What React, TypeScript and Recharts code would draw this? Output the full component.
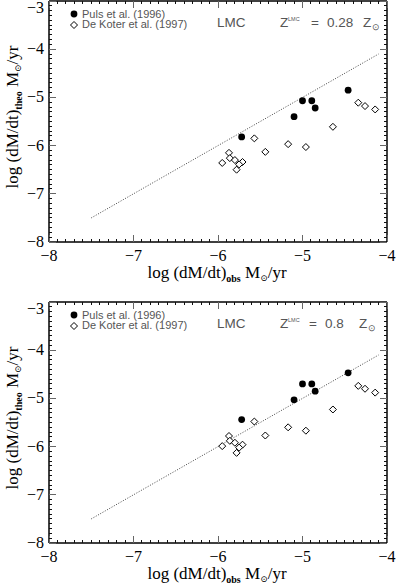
import React from 'react';
import { ScatterChart, Scatter, XAxis, YAxis, ReferenceLine, ReferenceArea } from 'recharts';

// Puls et al. (1996): observed vs theoretical log mass-loss rates
const pulsObs = [-4.46, -5.0, -4.89, -4.85, -5.1, -5.72];
const pulsTheoZ028 = [-4.85, -5.07, -5.07, -5.22, -5.4, -5.82];
const pulsTheoZ08 = [-4.47, -4.7, -4.7, -4.85, -5.03, -5.44];

// De Koter et al. (1997)
const koterObs = [-4.34, -4.26, -4.14, -4.64, -5.57, -5.17, -4.96, -5.44, -5.87, -5.86, -5.8, -5.71, -5.95, -5.75, -5.78];
const koterTheoZ028 = [-5.11, -5.18, -5.25, -5.61, -5.85, -5.97, -6.03, -6.13, -6.15, -6.26, -6.3, -6.34, -6.36, -6.39, -6.5];
const koterTheoZ08 = [-4.74, -4.8, -4.88, -5.23, -5.48, -5.6, -5.67, -5.77, -5.78, -5.88, -5.92, -5.96, -5.99, -6.02, -6.13];

// one-to-one reference line
const oneToOne = [-7.5, -4.1];

const xMajor = [-8, -7, -6, -5, -4];
const yMajor = [-8, -7, -6, -5, -4, -3];
const minorStep = 0.1;

const makeTicks = (major: number[]) => {
  const out: number[] = [];
  const lo = major[0];
  const hi = major[major.length - 1];
  const n = Math.round((hi - lo) / minorStep);
  for (let i = 0; i <= n; i++) out.push(Math.round((lo + i * minorStep) * 10) / 10);
  return out;
};
const xTicks = makeTicks(xMajor);
const yTicks = makeTicks(yMajor);

const isMajor = (v: number) => Math.abs(v - Math.round(v)) < 1e-6;
const fmt = (v: number) => (v < 0 ? '\u2212' + Math.abs(v) : String(v));

const TICK_MINOR = '#111';
const TICK_MAJOR = '#666';
const MAJ = 7;
const MIN = 3;
const SERIF = '"Liberation Serif", "DejaVu Serif", serif';
const SANS = '"Liberation Sans", Arial, sans-serif';

const tickPath = (d: string, m: boolean) => (
  <path d={d} stroke={m ? TICK_MAJOR : TICK_MINOR} strokeWidth={1} fill="none" shapeRendering="crispEdges" />
);

const BottomTick = (p: any) => {
  const v = p.payload.value;
  const m = isMajor(v);
  return (
    <g>
      {tickPath(`M${p.x},${p.y}V${p.y - (m ? MAJ : MIN)}`, m)}
      {m && (
        <text x={p.x} y={p.y + 19} textAnchor="middle" fontFamily={SERIF} fontSize={16} fill="#000">
          {fmt(v)}
        </text>
      )}
    </g>
  );
};
const TopTick = (p: any) => {
  const m = isMajor(p.payload.value);
  return tickPath(`M${p.x},${p.y}V${p.y + (m ? MAJ : MIN)}`, m);
};
const LeftTick = (p: any) => {
  const v = p.payload.value;
  const m = isMajor(v);
  return (
    <g>
      {tickPath(`M${p.x},${p.y}H${p.x + (m ? MAJ : MIN)}`, m)}
      {m && (
        <text x={p.x - 5} y={Math.max(p.y + 5, 13)} textAnchor="end" fontFamily={SERIF} fontSize={16} fill="#000">
          {fmt(v)}
        </text>
      )}
    </g>
  );
};
const RightTick = (p: any) => {
  const m = isMajor(p.payload.value);
  return tickPath(`M${p.x},${p.y}H${p.x - (m ? MAJ : MIN)}`, m);
};

const Dot = (p: any) => <circle cx={p.cx} cy={p.cy} r={3.4} fill="#000" />;
const Diamond = (p: any) => {
  const s = 3.5;
  return (
    <path
      d={`M${p.cx},${p.cy - s}L${p.cx + s},${p.cy}L${p.cx},${p.cy + s}L${p.cx - s},${p.cy}Z`}
      fill="#fff"
      stroke="#000"
      strokeWidth={1}
    />
  );
};
const Nothing = () => <g />;

const W = 397;
const H = 301;

function Panel({ pulsTheo, koterTheo, zText, zPos }: { pulsTheo: number[]; koterTheo: number[]; zText: string; zPos: number[] }) {
  const puls = pulsObs.map((x, i) => ({ x, y: pulsTheo[i] }));
  const koter = koterObs.map((x, i) => ({ x, y: koterTheo[i] }));
  return (
    <ScatterChart width={W} height={H} margin={{ top: 0, right: 9, bottom: 0, left: 0 }}>
      <XAxis type="number" xAxisId="b" dataKey="x" domain={[-8, -4]} ticks={xTicks} interval={0} allowDataOverflow orientation="bottom" height={59} tickSize={0} tickMargin={0} tickLine={false} axisLine={{ stroke: '#000' }} tick={<BottomTick />} />
      <XAxis type="number" xAxisId="t" dataKey="x" domain={[-8, -4]} ticks={xTicks} interval={0} allowDataOverflow orientation="top" height={1} tickSize={0} tickMargin={0} tickLine={false} axisLine={{ stroke: '#000' }} tick={<TopTick />} />
      <YAxis type="number" yAxisId="l" dataKey="y" domain={[-8, -3]} ticks={yTicks} interval={0} allowDataOverflow orientation="left" width={49} tickSize={0} tickMargin={0} tickLine={false} axisLine={{ stroke: '#000' }} tick={<LeftTick />} />
      <YAxis type="number" yAxisId="r" dataKey="y" domain={[-8, -3]} ticks={yTicks} interval={0} allowDataOverflow orientation="right" width={1} tickSize={0} tickMargin={0} tickLine={false} axisLine={{ stroke: '#000' }} tick={<RightTick />} />
      <ReferenceArea xAxisId="b" yAxisId="l" x1={-8} x2={-4} y1={-8} y2={-3} fill="none" stroke="#000" strokeWidth={1} ifOverflow="visible" />
      <ReferenceLine
        xAxisId="b"
        yAxisId="l"
        segment={[
          { x: oneToOne[0], y: oneToOne[0] },
          { x: oneToOne[1], y: oneToOne[1] },
        ]}
        stroke="#444"
        strokeWidth={1}
        strokeDasharray="1 1.6"
        ifOverflow="visible"
      />
      <Scatter xAxisId="t" yAxisId="r" data={puls} shape={<Nothing />} isAnimationActive={false} />
      <Scatter xAxisId="b" yAxisId="l" data={koter} shape={<Diamond />} isAnimationActive={false} />
      <Scatter xAxisId="b" yAxisId="l" data={puls} shape={<Dot />} isAnimationActive={false} />

      {/* legend */}
      <g>
        <circle cx={74} cy={14} r={3.4} fill="#000" />
        <path d="M74,21.5L77.5,25L74,28.5L70.5,25Z" fill="#fff" stroke="#000" strokeWidth={1} />
        <text x={82} y={17.5} fontFamily={SANS} fontSize={11} fill="#555">Puls et al. (1996)</text>
        <text x={82} y={28} fontFamily={SANS} fontSize={11} fill="#555">De Koter et al. (1997)</text>
      </g>
      <g fontFamily={SANS} fill="#555">
        <text x={217} y={26.5} fontSize={13.5}>LMC</text>
        <text x={280} y={26.5} fontSize={13.5}>Z</text>
        <text x={288} y={21} fontSize={5.5}>LMC</text>
        <text x={zPos[0]} y={26.5} fontSize={13.5}>=</text>
        <text x={zPos[1]} y={26.5} fontSize={13.5}>{zText}</text>
        <text x={zPos[2]} y={26.5} fontSize={13.5}>Z</text>
        <text x={zPos[2] + 9} y={29.5} fontSize={9}>⊙</text>
      </g>

      {/* axis titles */}
      <text x={217} y={278} textAnchor="middle" fontFamily={SERIF} fontSize={17} fill="#000">
        log (dM/dt)
        <tspan fontSize={10} fontWeight="bold" dy={4}>obs</tspan>
        <tspan dy={-4}>{'  M'}</tspan>
        <tspan fontSize={9} dy={3}>⊙</tspan>
        <tspan dy={-3}>/yr</tspan>
      </text>
      <text
        x={0}
        y={0}
        transform="translate(18,117) rotate(-90)"
        textAnchor="middle"
        fontFamily={SERIF}
        fontSize={17}
        fill="#000"
      >
        log (dM/dt)
        <tspan fontSize={10} fontWeight="bold" dy={4}>theo</tspan>
        <tspan dy={-4}>{'    M'}</tspan>
        <tspan fontSize={9} dy={3}>⊙</tspan>
        <tspan dy={-3}>/yr</tspan>
      </text>
    </ScatterChart>
  );
}

export default function App() {
  return (
    <div style={{ position: 'absolute', left: 0, top: 0, width: W, height: 584, background: '#fff' }}>
      <div style={{ position: 'absolute', left: 0, top: 0 }}>
        <Panel pulsTheo={pulsTheoZ028} koterTheo={koterTheoZ028} zText="0.28" zPos={[311, 327, 363]} />
      </div>
      <div style={{ position: 'absolute', left: 0, top: 301 }}>
        <Panel pulsTheo={pulsTheoZ08} koterTheo={koterTheoZ08} zText="0.8" zPos={[309, 325, 359]} />
      </div>
    </div>
  );
}
